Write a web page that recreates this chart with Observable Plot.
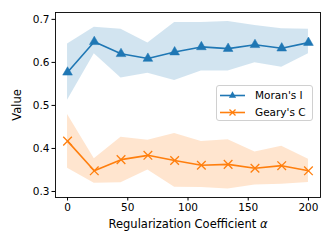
<!DOCTYPE html>
<html>
<head>
<meta charset="utf-8">
<script src="https://cdn.jsdelivr.net/npm/d3@7"></script>
<script src="https://cdn.jsdelivr.net/npm/@observablehq/plot@0.6"></script>
<style>
  html, body { margin: 0; padding: 0; background: #fff; }
  #wrap { position: relative; width: 332px; height: 249px; font-family: "DejaVu Sans", sans-serif; }
  #legend { position: absolute; left: 216px; top: 85px; width: 97px; height: 36px; border: 1px solid #d0d0d0; border-radius: 3px; background: rgba(255,255,255,0.8); box-sizing: border-box; }
  #legend svg { position: absolute; left: 0; top: 0; }
</style>
</head>
<body>
<div id="wrap"></div>
<script>
const alpha = [0, 22.2, 44.4, 66.7, 88.9, 111.1, 133.3, 155.6, 177.8, 200];
const moran = [0.577, 0.648, 0.620, 0.609, 0.624, 0.636, 0.632, 0.641, 0.633, 0.646];
const moranLo = [0.512, 0.620, 0.564, 0.575, 0.558, 0.580, 0.580, 0.599, 0.589, 0.620];
const moranHi = [0.643, 0.682, 0.677, 0.645, 0.693, 0.693, 0.695, 0.686, 0.678, 0.677];
const geary = [0.417, 0.348, 0.374, 0.384, 0.372, 0.361, 0.363, 0.354, 0.360, 0.348];
const gearyLo = [0.354, 0.319, 0.320, 0.350, 0.310, 0.309, 0.306, 0.315, 0.317, 0.321];
const gearyHi = [0.479, 0.376, 0.426, 0.419, 0.435, 0.416, 0.420, 0.392, 0.405, 0.375];
const seriesNames = ["Moran's I", "Geary's C"];
const colors = ["#1f77b4", "#ff7f0e"];
const xTicks = [0, 50, 100, 150, 200];
const yTicks = [0.3, 0.4, 0.5, 0.6, 0.7];

const M = alpha.map((a, i) => ({a, v: moran[i], lo: moranLo[i], hi: moranHi[i]}));
const G = alpha.map((a, i) => ({a, v: geary[i], lo: gearyLo[i], hi: gearyHi[i]}));

const chart = Plot.plot({
  width: 332,
  height: 249,
  marginLeft: 55,
  marginRight: 12,
  marginTop: 12,
  marginBottom: 52,
  style: {fontFamily: "DejaVu Sans, sans-serif", fontSize: "10.5px", color: "#000", background: "#fff"},
  x: {domain: [-10, 210]},
  y: {domain: [0.286, 0.716]},
  marks: [
    Plot.areaY(M, {x: "a", y1: "lo", y2: "hi", fill: colors[0], fillOpacity: 0.2}),
    Plot.areaY(G, {x: "a", y1: "lo", y2: "hi", fill: colors[1], fillOpacity: 0.2}),
    Plot.line(M, {x: "a", y: "v", stroke: colors[0], strokeWidth: 1.6}),
    Plot.dot(M, {x: "a", y: "v", symbol: "triangle", r: 3.6, fill: colors[0], stroke: colors[0], strokeWidth: 0.5}),
    Plot.line(G, {x: "a", y: "v", stroke: colors[1], strokeWidth: 1.6}),
    Plot.dot(G, {x: "a", y: "v", symbol: "times", r: 4, stroke: colors[1], strokeWidth: 1.3}),
    Plot.frame({stroke: "#000", strokeWidth: 0.9}),
    Plot.axisX({ticks: xTicks, tickFormat: d => String(d), tickSize: 3.5, tickPadding: 2.5, label: null, fontSize: "10.5px"}),
    Plot.axisX({ticks: [], tickSize: 0, label: "Regularization Coefficient α", labelAnchor: "center", labelArrow: "none", labelOffset: 30, fontSize: "11.5px"}),
    Plot.axisY({ticks: yTicks, tickFormat: d => d.toFixed(1), tickSize: 3.5, tickPadding: 2.5, label: null, fontSize: "10.5px"}),
    Plot.axisY({ticks: [], tickSize: 0, label: "Value", labelAnchor: "center", labelArrow: "none", labelOffset: 43, fontSize: "11.5px"})
  ]
});
document.getElementById("wrap").appendChild(chart);

// italicize alpha in x label
chart.querySelectorAll("text").forEach(t => {
  if (t.textContent === "Regularization Coefficient α") {
    t.innerHTML = 'Regularization Coefficient <tspan font-style="italic">α</tspan>';
  }
});

// legend
const leg = document.createElement("div");
leg.id = "legend";
const ns = "http://www.w3.org/2000/svg";
const ls = document.createElementNS(ns, "svg");
ls.setAttribute("width", 97); ls.setAttribute("height", 36);
seriesNames.forEach((name, i) => {
  const y = 9.5 + i * 17;
  const line = document.createElementNS(ns, "line");
  line.setAttribute("x1", 3); line.setAttribute("x2", 28);
  line.setAttribute("y1", y); line.setAttribute("y2", y);
  line.setAttribute("stroke", colors[i]); line.setAttribute("stroke-width", 1.6);
  ls.appendChild(line);
  if (i === 0) {
    const p = document.createElementNS(ns, "path");
    const r = 3.6, cx = 15.5;
    p.setAttribute("d", `M${cx},${y - r * 1.15}L${cx + r},${y + r * 0.6}L${cx - r},${y + r * 0.6}Z`);
    p.setAttribute("fill", colors[i]);
    ls.appendChild(p);
  } else {
    const p = document.createElementNS(ns, "path");
    const r = 3, cx = 15.5;
    p.setAttribute("d", `M${cx - r},${y - r}L${cx + r},${y + r}M${cx + r},${y - r}L${cx - r},${y + r}`);
    p.setAttribute("stroke", colors[i]); p.setAttribute("stroke-width", 1.3);
    ls.appendChild(p);
  }
  const t = document.createElementNS(ns, "text");
  t.setAttribute("x", 38); t.setAttribute("y", y); t.setAttribute("dy", "0.35em");
  t.setAttribute("font-size", "10.5px"); t.setAttribute("font-family", "DejaVu Sans, sans-serif");
  t.textContent = name;
  ls.appendChild(t);
});
leg.appendChild(ls);
document.getElementById("wrap").appendChild(leg);
</script>
</body>
</html>
